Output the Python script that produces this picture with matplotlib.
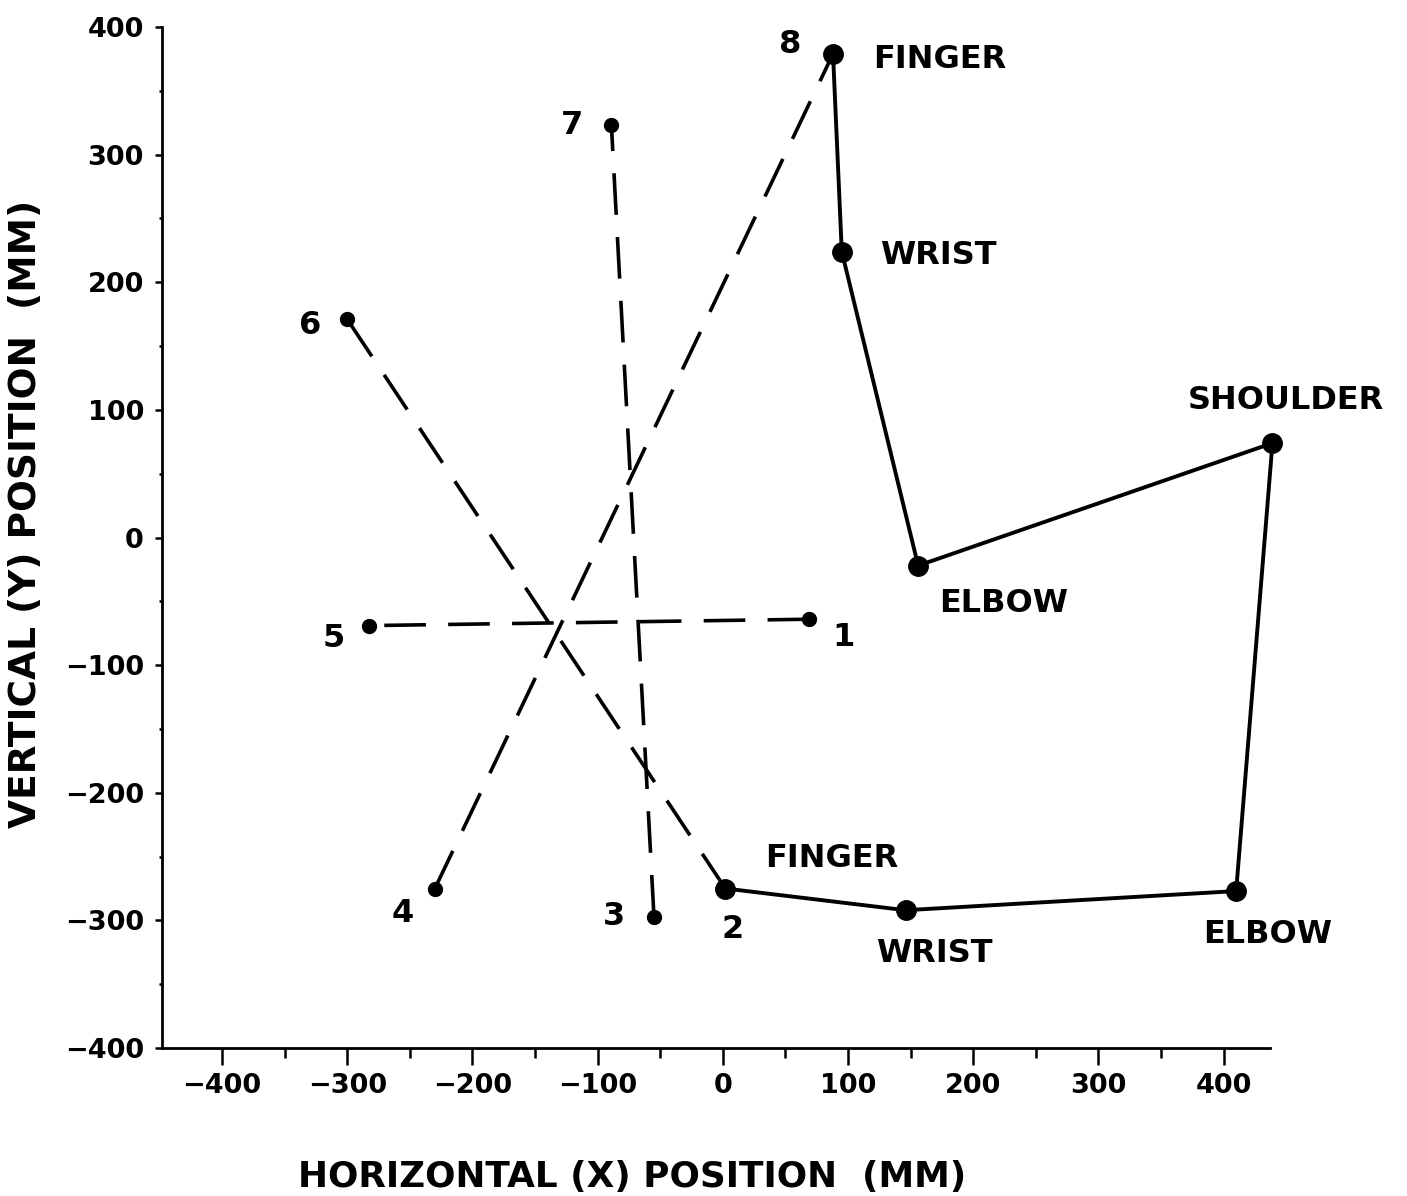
import matplotlib
matplotlib.use('Agg')
import matplotlib.pyplot as plt
from matplotlib.ticker import MultipleLocator

plt.rcParams['font.family'] = ['DejaVu Sans']
plt.rcParams['font.weight'] = 'bold'
plt.rcParams['axes.labelweight'] = 'bold'
plt.rcParams['lines.scale_dashes'] = False

# dashed finger paths: start point (1-4) to end point (5-8)
start_labels = ['1', '2', '3', '4']
start_x = [69, 2, -55, -230]
start_y = [-64, -275, -297, -275]
end_labels = ['5', '6', '7', '8']
end_x = [-283, -300, -89, 88]
end_y = [-69, 171, 323, 379]

# arm postures (solid): finger, wrist, elbow, shoulder
arm_top_names = ['FINGER', 'WRIST', 'ELBOW', 'SHOULDER']
arm_top_x = [88, 95, 156, 439]
arm_top_y = [379, 224, -22, 74]
arm_bot_names = ['FINGER', 'WRIST', 'ELBOW']
arm_bot_x = [2, 146, 410]
arm_bot_y = [-275, -292, -277]

fig = plt.figure(figsize=(14.07, 11.96), dpi=100)
ax = fig.add_axes([0.1151, 0.1237, 0.7875, 0.8537])

# dashed lines
for i in range(4):
    ax.plot([start_x[i], end_x[i]], [start_y[i], end_y[i]], color='black',
            lw=2.6, dashes=(30, 16), marker='o', markersize=10,
            dash_capstyle='butt', zorder=2, clip_on=False)

# solid arm line, top posture then back down through the lower one
arm_x = arm_top_x + arm_bot_x[::-1]
arm_y = arm_top_y + arm_bot_y[::-1]
ax.plot(arm_x, arm_y, color='black', lw=2.8, zorder=3, clip_on=False)
ax.plot(arm_top_x, arm_top_y, 'o', color='black', markersize=14, zorder=4, clip_on=False)
ax.plot(arm_bot_x, arm_bot_y, 'o', color='black', markersize=14, zorder=4, clip_on=False)

fs = 23
start_off = [(34, -18), (7, -41), (-40, 0), (-32, -25)]
end_off = [(-35, -13), (-37, -6), (-39, 0), (-43, 9)]
for i in range(4):
    ax.annotate(start_labels[i], (start_x[i], start_y[i]), xytext=start_off[i],
                textcoords='offset pixels', ha='center', va='center', fontsize=fs,
                annotation_clip=False)
    ax.annotate(end_labels[i], (end_x[i], end_y[i]), xytext=end_off[i],
                textcoords='offset pixels', ha='center', va='center', fontsize=fs,
                annotation_clip=False)

top_off = [(107, -6), (97, -4), (85, -38), (13, 43)]
for i in range(4):
    ax.annotate(arm_top_names[i], (arm_top_x[i], arm_top_y[i]), xytext=top_off[i],
                textcoords='offset pixels', ha='center', va='center', fontsize=fs,
                annotation_clip=False)
bot_off = [(106, 30), (29, -43), (31, -43)]
for i in range(3):
    ax.annotate(arm_bot_names[i], (arm_bot_x[i], arm_bot_y[i]), xytext=bot_off[i],
                textcoords='offset pixels', ha='center', va='center', fontsize=fs,
                annotation_clip=False)

ax.set_xlim(-448, 437)
ax.set_ylim(-400, 400)
ax.set_xticks(range(-400, 401, 100))
ax.set_yticks(range(-400, 401, 100))
ax.xaxis.set_minor_locator(MultipleLocator(50))
ax.yaxis.set_minor_locator(MultipleLocator(50))

for side in ['top', 'right']:
    ax.spines[side].set_visible(False)
for side in ['left', 'bottom']:
    ax.spines[side].set_linewidth(2)

ax.tick_params(axis='x', which='major', direction='out', length=12, width=1.8,
               labelsize=19.5, pad=6)
ax.tick_params(axis='x', which='minor', direction='out', length=7, width=1.8)
ax.tick_params(axis='y', which='major', direction='out', length=5, width=1.8,
               labelsize=19.5, pad=8)
ax.tick_params(axis='y', which='minor', direction='out', length=2, width=1.8)

ax.set_xlabel('HORIZONTAL (X) POSITION  (MM)', fontsize=25.8)
ax.set_ylabel('VERTICAL (Y) POSITION  (MM)', fontsize=27)
ax.xaxis.set_label_coords(0.424, -0.110)
ax.yaxis.set_label_coords(-0.1065, 0.523)

fig.savefig('out.png', dpi=100)
